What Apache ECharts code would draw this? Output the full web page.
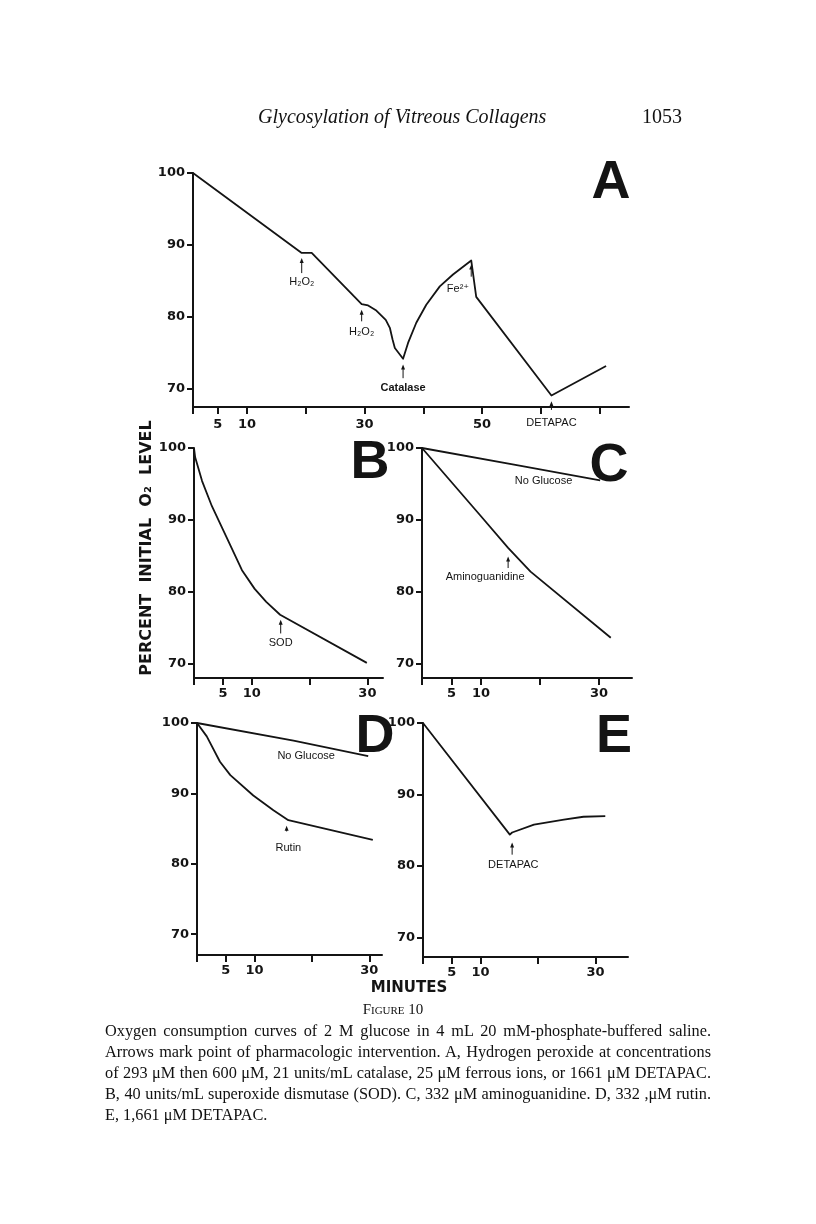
<!DOCTYPE html>
<html>
<head>
<meta charset="utf-8">
<script src="https://cdn.jsdelivr.net/npm/echarts@6/dist/echarts.min.js"></script>
<style>
  html, body { margin: 0; padding: 0; background: #fff; }
  #page { position: relative; width: 816px; height: 1224px; overflow: hidden; background: #fff; }
  #chart { position: absolute; left: 0; top: 0; width: 816px; height: 1224px; }
  .hdr { position: absolute; font-family: "Liberation Serif", "DejaVu Serif", serif; color: #111; font-size: 20px; line-height: 24px; white-space: nowrap; }
  #caption { position: absolute; left: 105px; top: 999px; width: 606px; font-family: "Liberation Serif", serif; color: #111; font-size: 16.3px; line-height: 21px; word-spacing: -2.5px; }
  #caption .ln { text-align: justify; text-align-last: justify; white-space: nowrap; }
  #caption .last { text-align: left; text-align-last: left; word-spacing: 0; }
  #caption .fig { text-align: center; font-variant: small-caps; font-size: 15px; line-height: 21px; margin-left: -30px; word-spacing: 0; }
</style>
</head>
<body>
<div id="page">
  <div id="chart"></div>
  <div class="hdr" style="left:258px; top:104px; font-style: italic;">Glycosylation of Vitreous Collagens</div>
  <div class="hdr" style="left:642px; top:104px;">1053</div>
  <div id="caption">
    <div class="fig">Figure 10</div>
    <div class="ln">Oxygen consumption curves of 2 M glucose in 4 mL 20 mM-phosphate-buffered saline.</div>
    <div class="ln">Arrows mark point of pharmacologic intervention. A, Hydrogen peroxide at concentrations</div>
    <div class="ln">of 293 μM then 600 μM, 21 units/mL catalase, 25 μM ferrous ions, or 1661 μM DETAPAC.</div>
    <div class="ln">B, 40 units/mL superoxide dismutase (SOD). C, 332 μM aminoguanidine. D, 332 ,μM rutin.</div>
    <div class="ln last">E, 1,661 μM DETAPAC.</div>
  </div>
</div>
<script>
// ---------------- data (minutes, percent initial O2 level) ----------------
const timeA = [0.8, 19.3, 21.0, 29.5, 30.6, 32.0, 33.6, 34.3, 34.75, 35.15, 36.55, 37.4, 38.8, 40.5, 42.8, 45.05, 48.15, 49.0, 61.8, 71.1];
const o2A   = [100, 88.9, 88.9, 81.8, 81.6, 80.9, 79.6, 78.5, 76.9, 75.7, 74.2, 76.4, 79.2, 81.7, 84.25, 85.9, 87.85, 82.8, 69.1, 73.2];

const timeB = [0, 0.2, 1.4, 3.1, 5.5, 8.3, 10.5, 12.5, 14.9, 29.9];
const o2B   = [100, 98.7, 95.4, 91.9, 87.8, 83.0, 80.4, 78.6, 76.8, 70.1];

const timeCNoGlucose = [0, 15.6, 30.2];
const o2CNoGlucose   = [100, 97.7, 95.5];
const timeCAmino     = [0, 10.0, 14.6, 18.4, 32.0];
const o2CAmino       = [100, 90.5, 86.1, 82.8, 73.6];

const timeDNoGlucose = [0, 16.8, 29.8];
const o2DNoGlucose   = [100, 97.5, 95.3];
const timeDRutin     = [0, 1.7, 4.0, 5.8, 9.8, 13.3, 15.9, 30.6];
const o2DRutin       = [100, 98.1, 94.5, 92.6, 89.7, 87.6, 86.2, 83.4];

const timeE = [0, 15.1, 15.5, 19.3, 24.5, 27.9, 31.7];
const o2E   = [100, 84.4, 84.7, 85.8, 86.5, 86.9, 87.0];

// tick values / labels
const yTicks = [70, 80, 90, 100];
const xLabelsA = [5, 10, 30, 50];
const xTicksA = [5, 10, 20, 30, 40, 50, 60, 70];
const xLabelsSmall = [5, 10, 30];
const xTicksSmall = [0, 5, 10, 20, 30];

// interventions (arrow points), in data coordinates
const notesA = [
  { text: 'H₂O₂', x: 19.3, textY: 84.9, tailY: 86.1, tipY: 88.2 },
  { text: 'H₂O₂', x: 29.5, textY: 77.9, tailY: 79.4, tipY: 81.0 },
  { text: 'Catalase', x: 36.55, textY: 70.2, tailY: 71.5, tipY: 73.4, bold: true },
  { text: 'Fe²⁺', x: 48.15, textX: 45.9, textY: 83.9, tailY: 85.6, tipY: 87.3 },
  { text: 'DETAPAC', x: 61.8, textY: 65.3, tailY: 67.1, tipY: 68.3 }
];
const notesB = [ { text: 'SOD', x: 15.0, textY: 72.9, tailY: 74.2, tipY: 76.1 } ];
const notesC = [
  { text: 'No Glucose', x: 20.6, textY: 95.45 },
  { text: 'Aminoguanidine', x: 14.6, textX: 10.7, textY: 82.0, tailY: 83.3, tipY: 84.9 }
];
const notesD = [
  { text: 'No Glucose', x: 19.0, textY: 95.3 },
  { text: 'Rutin', x: 15.6, textX: 15.9, textY: 82.3, tailY: 84.6, tipY: 85.4 }
];
const notesE = [ { text: 'DETAPAC', x: 15.5, textX: 15.7, textY: 80.1, tailY: 81.6, tipY: 83.3 } ];

// ---------------- layout ----------------
const INK = '#141414';
const panels = [
  { grid: { left: 193, top: 173, width: 436, height: 234 }, x: [0.8, 75],  y: [67.5, 100],  ticks: [0.8].concat(xTicksA), labels: xLabelsA, lm: 11 },
  { grid: { left: 194, top: 448, width: 189, height: 230 }, x: [0, 32.7],  y: [68, 100],    ticks: xTicksSmall, labels: xLabelsSmall, lm: 9 },
  { grid: { left: 422, top: 448, width: 210, height: 230 }, x: [0, 35.6],  y: [68, 100],    ticks: xTicksSmall, labels: xLabelsSmall, lm: 9 },
  { grid: { left: 197, top: 723, width: 185, height: 232 }, x: [0, 32.2],  y: [67.05, 100], ticks: xTicksSmall, labels: xLabelsSmall, lm: 9 },
  { grid: { left: 423, top: 723, width: 205, height: 234 }, x: [0, 35.65], y: [67.3, 100],  ticks: xTicksSmall, labels: xLabelsSmall, lm: 9 }
];

const zip = (xs, ys) => xs.map((v, i) => [v, ys[i]]);
const labelFont = { fontFamily: 'DejaVu Sans', fontWeight: 'bold', fontSize: 13, color: INK };

const option = {
  animation: false,
  backgroundColor: 'transparent',
  grid: panels.map(p => Object.assign({ containLabel: false }, p.grid)),
  xAxis: panels.map((p, i) => ({
    type: 'value', gridIndex: i, min: p.x[0], max: p.x[1],
    axisLine: { show: true, onZero: false, lineStyle: { color: INK, width: 2 } },
    axisTick: { show: true, inside: false, length: 7, customValues: p.ticks, lineStyle: { color: INK, width: 2 } },
    axisLabel: Object.assign({ show: true, margin: p.lm, customValues: p.labels }, labelFont),
    splitLine: { show: false }
  })),
  yAxis: panels.map((p, i) => ({
    type: 'value', gridIndex: i, min: p.y[0], max: p.y[1],
    axisLine: { show: true, onZero: false, lineStyle: { color: INK, width: 2 } },
    axisTick: { show: true, inside: false, length: 6, customValues: yTicks, lineStyle: { color: INK, width: 2 } },
    axisLabel: Object.assign({ show: true, margin: 8, customValues: yTicks }, labelFont),
    splitLine: { show: false }
  })),
  series: [
    [0, zip(timeA, o2A)],
    [1, zip(timeB, o2B)],
    [2, zip(timeCNoGlucose, o2CNoGlucose)],
    [2, zip(timeCAmino, o2CAmino)],
    [3, zip(timeDNoGlucose, o2DNoGlucose)],
    [3, zip(timeDRutin, o2DRutin)],
    [4, zip(timeE, o2E)]
  ].map(([g, d]) => ({
    type: 'line', xAxisIndex: g, yAxisIndex: g, data: d,
    showSymbol: false, symbol: 'none', clip: false,
    lineStyle: { color: INK, width: 1.8, join: 'round' }
  }))
};

const chart = echarts.init(document.getElementById('chart'), null, { renderer: 'canvas' });
chart.setOption(option);

// annotations placed through the axes' own scales
const graphics = [];
[notesA, notesB, notesC, notesD, notesE].forEach((notes, gi) => {
  notes.forEach(n => {
    const tp = chart.convertToPixel({ gridIndex: gi }, [n.textX !== undefined ? n.textX : n.x, n.textY]);
    graphics.push({
      type: 'text', x: tp[0], y: tp[1], silent: true,
      style: { text: n.text, fill: INK, font: (n.bold ? 'bold ' : '') + '11px "Liberation Sans", "DejaVu Sans", sans-serif', textAlign: 'center', textVerticalAlign: 'middle' }
    });
    if (n.tipY !== undefined) {
      const a = chart.convertToPixel({ gridIndex: gi }, [n.x, n.tailY]);
      const b = chart.convertToPixel({ gridIndex: gi }, [n.x, n.tipY]);
      graphics.push({ type: 'line', silent: true, shape: { x1: a[0], y1: a[1], x2: b[0], y2: b[1] + 3 }, style: { stroke: INK, lineWidth: 1 } });
      graphics.push({ type: 'polygon', silent: true, shape: { points: [[b[0] - 2, b[1] + 5], [b[0], b[1]], [b[0] + 2, b[1] + 5]] }, style: { fill: INK } });
    }
  });
});

// panel letters and axis titles
const letterFont = 'bold 54px "Liberation Sans", "DejaVu Sans", sans-serif';
[['A', 611, 183], ['B', 370, 463], ['C', 609, 466], ['D', 375, 737], ['E', 614, 737]].forEach(([t, x, y]) => {
  graphics.push({ type: 'text', x: x, y: y, silent: true, style: { text: t, fill: INK, font: letterFont, textAlign: 'center', textVerticalAlign: 'middle' } });
});
graphics.push({
  type: 'text', x: 147, y: 548, rotation: Math.PI / 2, silent: true,
  style: { text: 'PERCENT  INITIAL  O₂  LEVEL', fill: INK, font: 'bold 16px "DejaVu Sans", sans-serif', textAlign: 'center', textVerticalAlign: 'middle' }
});
graphics.push({
  type: 'text', x: 409, y: 988, silent: true,
  style: { text: 'MINUTES', fill: INK, font: 'bold 15px "DejaVu Sans", sans-serif', textAlign: 'center', textVerticalAlign: 'middle' }
});

chart.setOption({ graphic: graphics });
</script>
</body>
</html>
